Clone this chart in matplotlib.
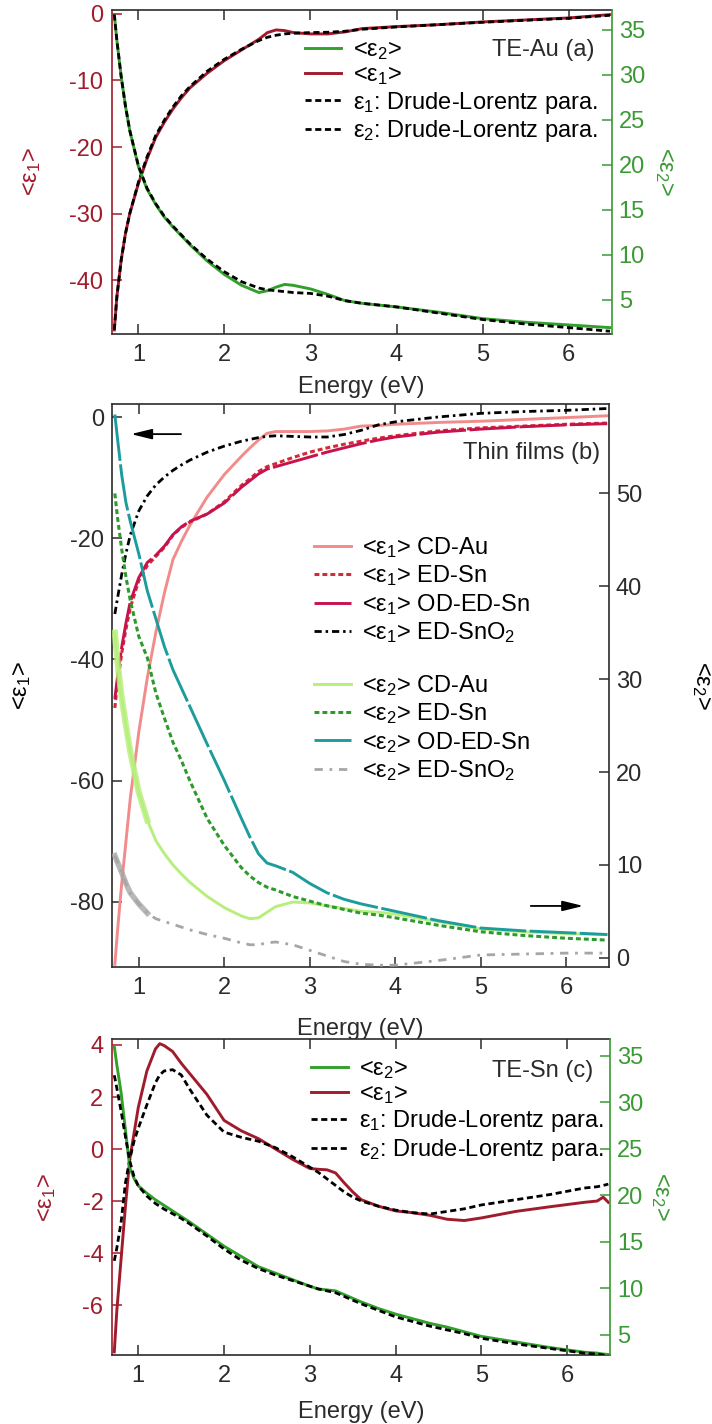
import numpy as np
import matplotlib
matplotlib.use("Agg")
import matplotlib.pyplot as plt

plt.rcParams['font.family'] = ['Liberation Sans', 'DejaVu Sans']
plt.rcParams['mathtext.fontset'] = 'custom'
plt.rcParams['mathtext.rm'] = 'Liberation Sans'
plt.rcParams['mathtext.it'] = 'Liberation Sans'
plt.rcParams['mathtext.default'] = 'regular'
plt.rcParams['axes.unicode_minus'] = False
plt.rcParams['font.size'] = 17

RED = '#a01c2c'
GREEN = '#33a02c'
GREEN_AX = '#3a9a34'
INK = '#2b2b2b'

# ---- (a) TE-Au ----
energy_a = [0.72, 0.75, 0.80, 0.85, 0.90, 1.00, 1.10, 1.20, 1.30, 1.40, 1.50, 1.60, 1.80, 2.00, 2.20,
            2.40, 2.50, 2.60, 2.70, 2.80, 3.00, 3.20, 3.40, 3.60, 4.00, 4.50, 5.00, 5.50, 6.00, 6.48]
eps1_a = [-47.5, -42.5, -37.0, -33.0, -30.0, -25.5, -21.8, -18.6, -16.3, -14.3, -12.6, -11.1, -8.9, -7.0, -5.4,
          -3.8, -2.8, -2.4, -2.5, -2.8, -3.0, -3.0, -2.7, -2.2, -1.9, -1.6, -1.2, -0.9, -0.6, -0.1]
eps1_dl_a = [-47.5, -42.5, -37.0, -33.0, -30.0, -25.3, -21.5, -18.3, -16.0, -14.0, -12.3, -10.9, -8.6, -6.8, -5.3,
             -4.0, -3.5, -3.2, -3.0, -2.9, -2.8, -2.75, -2.6, -2.3, -1.95, -1.6, -1.25, -0.95, -0.65, -0.2]
eps2_a = [36.7, 33.8, 29.8, 26.5, 23.8, 19.8, 17.3, 15.6, 14.2, 13.1, 12.1, 11.1, 9.3, 7.8, 6.6,
          5.8, 6.0, 6.4, 6.7, 6.6, 6.2, 5.6, 4.9, 4.6, 4.2, 3.6, 2.9, 2.5, 2.2, 1.9]
eps2_dl_a = [36.7, 33.8, 29.8, 26.5, 23.8, 19.9, 17.4, 15.7, 14.3, 13.2, 12.2, 11.2, 9.5, 8.1, 7.0,
             6.3, 6.1, 6.0, 5.9, 5.8, 5.7, 5.4, 4.9, 4.6, 4.2, 3.5, 2.8, 2.3, 1.9, 1.5]

# ---- (b) thin films ----
energy_b = [0.72, 0.75, 0.80, 0.85, 0.90, 1.00, 1.10, 1.20, 1.30, 1.40, 1.50, 1.60, 1.80, 2.00, 2.20, 2.30,
            2.40, 2.50, 2.60, 2.80, 3.00, 3.20, 3.40, 3.60, 3.80, 4.00, 4.50, 5.00, 5.50, 6.00, 6.48]
cd_au_eps1 = [-90.3, -85.0, -77.0, -70.0, -63.0, -52.0, -43.0, -35.5, -29.0, -23.5, -20.5, -17.8, -13.2, -9.5, -6.5, -5.1,
              -3.8, -2.7, -2.4, -2.4, -2.4, -2.3, -2.0, -1.5, -1.4, -1.2, -0.9, -0.7, -0.4, -0.1, 0.2]
ed_sn_eps1 = [-48.0, -44.0, -39.0, -35.0, -31.5, -27.0, -24.5, -23.0, -21.5, -19.5, -18.2, -17.3, -16.0, -14.0, -11.3, -10.2,
              -9.0, -8.2, -7.7, -6.7, -5.8, -5.1, -4.5, -4.0, -3.5, -3.1, -2.3, -1.8, -1.5, -1.2, -1.0]
od_ed_sn_eps1 = [-46.5, -43.0, -38.0, -34.0, -30.5, -26.5, -24.0, -22.8, -21.3, -19.4, -18.1, -17.2, -16.0, -14.2, -11.6, -10.5,
                 -9.4, -8.6, -8.2, -7.4, -6.6, -5.8, -5.1, -4.4, -3.8, -3.3, -2.5, -2.0, -1.6, -1.3, -1.1]
sno2_eps1 = [-32.5, -30.0, -26.0, -22.5, -19.5, -15.5, -13.0, -11.2, -9.9, -8.8, -7.9, -7.1, -5.8, -4.8, -4.0, -3.7,
             -3.4, -3.2, -3.1, -3.2, -3.3, -3.3, -2.9, -2.2, -1.3, -0.8, 0.0, 0.6, 0.9, 1.1, 1.4]
cd_au_eps2 = [35.0, 32.0, 28.0, 25.0, 22.2, 17.8, 14.8, 12.6, 11.2, 10.0, 9.0, 8.1, 6.6, 5.4, 4.5, 4.2,
              4.3, 4.9, 5.5, 6.0, 5.9, 5.6, 5.3, 5.0, 4.9, 4.7, 3.9, 3.1, 2.8, 2.6, 2.5]
ed_sn_eps2 = [50.0, 47.5, 44.0, 41.0, 38.5, 34.6, 32.3, 28.5, 25.8, 23.2, 21.2, 19.0, 15.0, 12.1, 9.7, 8.8,
              8.1, 7.6, 7.3, 6.6, 6.1, 5.6, 5.2, 4.8, 4.6, 4.3, 3.5, 2.8, 2.4, 2.1, 1.9]
od_ed_sn_eps2 = [58.5, 56.0, 52.0, 49.0, 47.0, 43.5, 39.5, 36.5, 33.5, 31.0, 29.0, 27.0, 23.0, 19.1, 15.0, 13.0,
                 11.2, 10.2, 9.9, 9.2, 8.0, 7.0, 6.3, 5.8, 5.4, 5.0, 4.0, 3.2, 2.9, 2.7, 2.5]
sno2_eps2 = [11.0, 10.3, 9.2, 8.0, 7.0, 5.8, 4.8, 4.2, 3.9, 3.6, 3.3, 3.0, 2.5, 2.1, 1.6, 1.4,
             1.4, 1.6, 1.7, 1.4, 0.8, 0.2, -0.4, -0.7, -0.8, -0.8, -0.3, 0.3, 0.4, 0.5, 0.5]

# ---- (c) TE-Sn ----
energy_c = [0.72, 0.75, 0.80, 0.85, 0.90, 0.95, 1.00, 1.10, 1.20, 1.25, 1.30, 1.40, 1.50, 1.60, 1.80, 2.00,
            2.20, 2.40, 2.60, 2.80, 3.00, 3.10, 3.20, 3.30, 3.40, 3.50, 3.60, 3.80, 4.00, 4.20, 4.40, 4.60,
            4.80, 5.00, 5.40, 5.80, 6.20, 6.35, 6.42, 6.48]
eps1_c = [-7.8, -6.2, -4.2, -2.2, -0.4, 0.6, 1.6, 3.0, 3.85, 4.05, 3.98, 3.75, 3.3, 2.9, 2.1, 1.1,
          0.7, 0.4, 0.0, -0.4, -0.75, -0.78, -0.8, -0.92, -1.3, -1.65, -1.95, -2.2, -2.38, -2.45, -2.55, -2.7,
          -2.75, -2.65, -2.4, -2.22, -2.05, -2.0, -1.85, -2.05]
eps1_dl_c = [-4.3, -3.8, -2.8, -1.3, -0.4, 0.3, 0.8, 1.7, 2.55, 2.85, 3.0, 3.05, 2.85, 2.3, 1.3, 0.65,
             0.45, 0.3, 0.05, -0.3, -0.7, -0.9, -1.15, -1.4, -1.65, -1.85, -2.0, -2.2, -2.35, -2.45, -2.5, -2.4,
             -2.3, -2.15, -1.95, -1.75, -1.5, -1.45, -1.4, -1.35]
eps2_c = [36.0, 34.0, 31.0, 27.0, 23.0, 21.8, 21.0, 20.2, 19.5, 19.2, 18.9, 18.3, 17.7, 17.1, 15.8, 14.5,
          13.4, 12.3, 11.6, 10.9, 10.2, 9.9, 9.8, 9.7, 9.3, 8.9, 8.5, 7.8, 7.2, 6.7, 6.2, 5.8,
          5.3, 4.8, 4.2, 3.6, 3.1, 3.0, 2.9, 2.85]
eps2_dl_c = [32.9, 31.5, 29.0, 26.3, 23.7, 22.0, 21.0, 19.9, 19.1, 18.8, 18.5, 18.0, 17.5, 16.9, 15.6, 14.2,
             13.0, 12.1, 11.4, 10.8, 10.2, 9.9, 9.7, 9.5, 9.1, 8.7, 8.3, 7.6, 6.9, 6.4, 5.9, 5.5,
             5.1, 4.6, 4.0, 3.5, 3.0, 2.9, 2.8, 2.7]

DASH = (0, (2.2, 1.3))
XLIM = (0.69, 6.5)


def style_pair(ax, ax2, ylim_l, ylim_r, yt_l, yt_r, col_l, col_r):
    ax.set_xlim(*XLIM)
    ax.set_xticks(range(1, 7))
    ax.set_ylim(*ylim_l)
    ax.set_yticks(yt_l)
    ax2.set_ylim(*ylim_r)
    ax2.set_yticks(yt_r)
    ax.tick_params(axis='x', direction='in', top=True, length=7, width=1.1, pad=7, colors=INK)
    ax.tick_params(axis='y', direction='in', length=7, width=1.1, pad=6, colors=col_l)
    ax2.tick_params(axis='y', direction='in', length=7, width=1.1, pad=5, colors=col_r)
    for s in ('top', 'bottom'):
        ax.spines[s].set_color(INK)
        ax.spines[s].set_linewidth(1.2)
        ax2.spines[s].set_visible(False)
    ax.spines['right'].set_visible(False)
    ax2.spines['left'].set_visible(False)
    ax.spines['left'].set_color(col_l)
    ax.spines['left'].set_linewidth(1.2)
    ax2.spines['right'].set_color(col_r)
    ax2.spines['right'].set_linewidth(1.2)


def axis_labels(ax, ax2, col_l, col_r, xl_y, yl_x, yr_x):
    ax.set_xlabel('Energy (eV)', color=INK, va='center')
    ax.xaxis.set_label_coords(0.5, xl_y)
    ax.set_ylabel('<ε$_1$>', color=col_l, va='center', ha='center')
    ax.yaxis.set_label_coords(yl_x, 0.5)
    ax2.set_ylabel('<ε$_2$>', color=col_r, rotation=270, va='center', ha='center')
    ax2.yaxis.set_label_coords(yr_x, 0.5)


LEG = dict(loc='upper left', frameon=False, borderpad=0, borderaxespad=0,
           handlelength=1.55, handletextpad=0.5)

fig = plt.figure(figsize=(7.12, 14.24), dpi=100)

# panel (a)
ax_a = fig.add_axes([0.1569, 0.7655, 0.7022, 0.2275])
ax_a2 = ax_a.twinx()
l1, = ax_a.plot(energy_a, eps1_a, color=RED, lw=2.1)
d1, = ax_a.plot(energy_a, eps1_dl_a, color='black', lw=2.0, ls=DASH)
l2, = ax_a2.plot(energy_a, eps2_a, color=GREEN, lw=2.1)
d2, = ax_a2.plot(energy_a, eps2_dl_a, color='black', lw=2.0, ls=DASH)
style_pair(ax_a, ax_a2, (-48.1, 0.6), (1.2, 37.2), [0, -10, -20, -30, -40], range(5, 40, 5), RED, GREEN_AX)
axis_labels(ax_a, ax_a2, RED, GREEN_AX, -0.164, -0.161, 1.105)
ax_a2.legend([l2, l1, d1, d2],
             ['<ε$_2$>', '<ε$_1$>', 'ε$_1$: Drude-Lorentz para.', 'ε$_2$: Drude-Lorentz para.'],
             bbox_to_anchor=(0.386, 0.91), labelspacing=0.1, **LEG)
ax_a2.text(0.965, 0.877, 'TE-Au (a)', transform=ax_a2.transAxes, ha='right', va='center', color=INK)

# panel (b)
ax_b = fig.add_axes([0.1577, 0.3207, 0.6976, 0.3954])
ax_b2 = ax_b.twinx()
e_b = np.array(energy_b)
noisy = e_b <= 1.15
b1, = ax_b.plot(energy_b, cd_au_eps1, color='#f28c8c', lw=2.1)
b2, = ax_b.plot(energy_b, ed_sn_eps1, color='#d42a36', lw=2.2, ls=(0, (1.6, 1.0)))
b3, = ax_b.plot(energy_b, od_ed_sn_eps1, color='#c8124e', lw=2.1, ls=(0, (16, 1.2)))
b4, = ax_b.plot(energy_b, sno2_eps1, color='black', lw=2.0, ls=(0, (2.6, 1.4, 0.9, 1.4)))
c1, = ax_b2.plot(energy_b, cd_au_eps2, color='#b8ef7c', lw=2.1)
ax_b2.plot(e_b[noisy], np.array(cd_au_eps2)[noisy], color='#b8ef7c', lw=4.5, alpha=0.8)
c2, = ax_b2.plot(energy_b, ed_sn_eps2, color='#2e9a2e', lw=2.2, ls=(0, (1.6, 1.0)))
c3, = ax_b2.plot(energy_b, od_ed_sn_eps2, color='#1d9c9c', lw=2.1, ls=(0, (16, 1.2)))
c4, = ax_b2.plot(energy_b, sno2_eps2, color='#a6a6a6', lw=2.0, ls=(0, (3.0, 2.4, 1.0, 2.4)))
ax_b2.plot(e_b[noisy], np.array(sno2_eps2)[noisy], color='#a6a6a6', lw=4.0, alpha=0.8)
style_pair(ax_b, ax_b2, (-90.8, 2.1), (-1.03, 59.6), [0, -20, -40, -60, -80], range(0, 60, 10), INK, INK)
axis_labels(ax_b, ax_b2, 'black', 'black', -0.110, -0.182, 1.187)
leg1 = ax_b2.legend([b1, b2, b3, b4],
                    ['<ε$_1$> CD-Au', '<ε$_1$> ED-Sn', '<ε$_1$> OD-ED-Sn', '<ε$_1$> ED-SnO$_2$'],
                    bbox_to_anchor=(0.406, 0.768), labelspacing=0.15, **LEG)
ax_b2.add_artist(leg1)
ax_b2.legend([c1, c2, c3, c4],
             ['<ε$_2$> CD-Au', '<ε$_2$> ED-Sn', '<ε$_2$> OD-ED-Sn', '<ε$_2$> ED-SnO$_2$'],
             bbox_to_anchor=(0.406, 0.523), labelspacing=0.15, **LEG)
ax_b2.text(0.982, 0.9135, 'Thin films (b)', transform=ax_b2.transAxes, ha='right', va='center', color=INK)
arrow = dict(arrowstyle='-|>,head_length=0.9,head_width=0.22', color='black', lw=1.3, mutation_scale=14)
ax_b2.annotate('', xy=(0.032, 0.947), xytext=(0.144, 0.947), xycoords='axes fraction', arrowprops=arrow)
ax_b2.annotate('', xy=(0.954, 0.109), xytext=(0.837, 0.109), xycoords='axes fraction', arrowprops=arrow)

# panel (c)
ax_c = fig.add_axes([0.1569, 0.04846, 0.6999, 0.2219])
ax_c2 = ax_c.twinx()
m1, = ax_c.plot(energy_c, eps1_c, color=RED, lw=2.1)
n1, = ax_c.plot(energy_c, eps1_dl_c, color='black', lw=2.0, ls=DASH)
m2, = ax_c2.plot(energy_c, eps2_c, color=GREEN, lw=2.1)
n2, = ax_c2.plot(energy_c, eps2_dl_c, color='black', lw=2.0, ls=DASH)
style_pair(ax_c, ax_c2, (-7.92, 4.23), (2.8, 36.8), [4, 2, 0, -2, -4, -6], range(5, 40, 5), RED, GREEN_AX)
axis_labels(ax_c, ax_c2, RED, GREEN_AX, -0.180, -0.130, 1.102)
ax_c2.legend([m2, m1, n1, n2],
             ['<ε$_2$>', '<ε$_1$>', 'ε$_1$: Drude-Lorentz para.', 'ε$_2$: Drude-Lorentz para.'],
             bbox_to_anchor=(0.40, 0.94), labelspacing=0.1, **LEG)
ax_c2.text(0.966, 0.899, 'TE-Sn (c)', transform=ax_c2.transAxes, ha='right', va='center', color=INK)

fig.savefig('out.png', dpi=100)
